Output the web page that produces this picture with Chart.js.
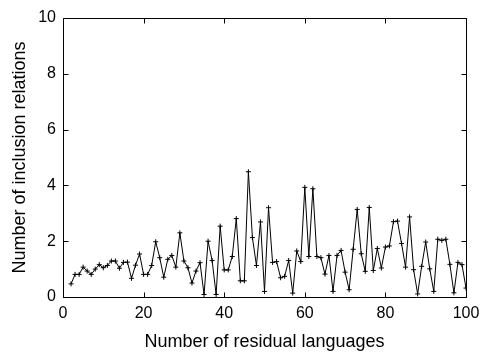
<!DOCTYPE html>
<html>
<head>
<meta charset="utf-8">
<script src="https://cdn.jsdelivr.net/npm/chart.js@4/dist/chart.umd.min.js"></script>
<style>
  html, body { margin: 0; padding: 0; background: #fff; }
  #wrap { width: 482px; height: 353px; }
</style>
</head>
<body>
<div id="wrap"><canvas id="chart" width="482" height="353"></canvas></div>
<script>
// number of residual languages (x) and inclusion relations (y)
const languages = [];
for (let n = 2; n <= 100; n++) languages.push(n);

const inclusions = [
  0.47, 0.81, 0.81, 1.07, 0.93, 0.81, 1.00, 1.16, 1.05, 1.13,
  1.29, 1.29, 1.03, 1.24, 1.25, 0.67, 1.14, 1.54, 0.81, 0.81,
  1.13, 1.98, 1.41, 0.71, 1.35, 1.49, 1.07, 2.30, 1.29, 1.05,
  0.50, 0.93, 1.23, 0.09, 2.00, 1.31, 0.09, 2.54, 0.97, 0.97,
  1.45, 2.81, 0.58, 0.58, 4.49, 2.13, 1.13, 2.69, 0.20, 3.20,
  1.24, 1.27, 0.69, 0.74, 1.31, 0.14, 1.65, 1.27, 3.93, 1.45,
  3.88, 1.45, 1.41, 0.82, 1.49, 0.20, 1.49, 1.67, 0.89, 0.26,
  1.71, 3.14, 1.55, 0.92, 3.21, 0.95, 1.74, 1.04, 1.79, 1.83,
  2.70, 2.72, 1.92, 1.07, 2.87, 0.98, 0.11, 1.10, 1.97, 1.01,
  0.20, 2.07, 2.03, 2.07, 1.17, 0.15, 1.24, 1.16, 0.32
];

const xTicks = [0, 20, 40, 60, 80, 100];
const yTicks = [0, 2, 4, 6, 8, 10];

const fontFamily = 'Arial, "Liberation Sans", Helvetica, sans-serif';
const tickFont = { family: fontFamily, size: 16 };

// box round the plot with short inward ticks on all four sides,
// positioned from the scales themselves (not chartArea)
const frameTicks = {
  id: 'frameTicks',
  afterDraw(chart) {
    const ctx = chart.ctx;
    const xs = chart.scales.x, ys = chart.scales.y;
    const len = 5;
    const L = Math.round(xs.getPixelForValue(0)) + 0.5;
    const R = Math.round(xs.getPixelForValue(100)) + 0.5;
    const T = Math.round(ys.getPixelForValue(10)) + 0.5;
    const B = Math.round(ys.getPixelForValue(0)) + 0.5;
    ctx.save();
    ctx.strokeStyle = '#000';
    ctx.lineWidth = 1;
    ctx.setLineDash([]);
    ctx.beginPath();
    ctx.moveTo(L, T); ctx.lineTo(R, T); ctx.lineTo(R, B); ctx.lineTo(L, B); ctx.closePath();
    xTicks.forEach(v => {
      const px = Math.round(xs.getPixelForValue(v)) + 0.5;
      ctx.moveTo(px, B); ctx.lineTo(px, B - len);
      ctx.moveTo(px, T); ctx.lineTo(px, T + len);
    });
    yTicks.forEach(v => {
      const py = Math.round(ys.getPixelForValue(v)) + 0.5;
      ctx.moveTo(L, py); ctx.lineTo(L + len, py);
      ctx.moveTo(R, py); ctx.lineTo(R - len, py);
    });
    ctx.stroke();
    ctx.restore();
  }
};

new Chart(document.getElementById('chart').getContext('2d'), {
  type: 'line',
  data: {
    datasets: [{
      data: languages.map((n, i) => ({ x: n, y: inclusions[i] })),
      borderColor: '#000',
      borderWidth: 1,
      tension: 0,
      pointStyle: 'cross',
      pointRadius: 2.5,
      pointBorderColor: '#000',
      pointBorderWidth: 1
    }]
  },
  options: {
    responsive: false,
    animation: false,
    layout: { padding: { top: 18, right: 16, left: 0, bottom: 0 } },
    plugins: { legend: { display: false } },
    scales: {
      x: {
        type: 'linear', position: 'bottom',
        min: 0, max: 100,
        afterBuildTicks: s => { s.ticks = xTicks.map(v => ({ value: v })); },
        afterFit: s => { s.height = 56; s.paddingLeft = 0; s.paddingRight = 0; },
        grid: { display: false, drawTicks: false },
        border: { display: false },
        ticks: { color: '#000', padding: 7, maxRotation: 0, font: tickFont },
        title: { display: true, text: 'Number of residual languages', color: '#000', padding: { top: 4, bottom: 0 }, font: { family: fontFamily, size: 18 } }
      },
      y: {
        type: 'linear', position: 'left',
        min: 0, max: 10,
        afterBuildTicks: s => { s.ticks = yTicks.map(v => ({ value: v })); },
        afterFit: s => { s.width = 63; s.paddingTop = 0; s.paddingBottom = 0; },
        grid: { display: false, drawTicks: false },
        border: { display: false },
        ticks: { color: '#000', padding: 7, font: tickFont },
        title: { display: true, text: 'Number of inclusion relations', color: '#000', padding: { top: 9, bottom: 0 }, font: { family: fontFamily, size: 18 } }
      }
    }
  },
  plugins: [frameTicks]
});
</script>
</body>
</html>
